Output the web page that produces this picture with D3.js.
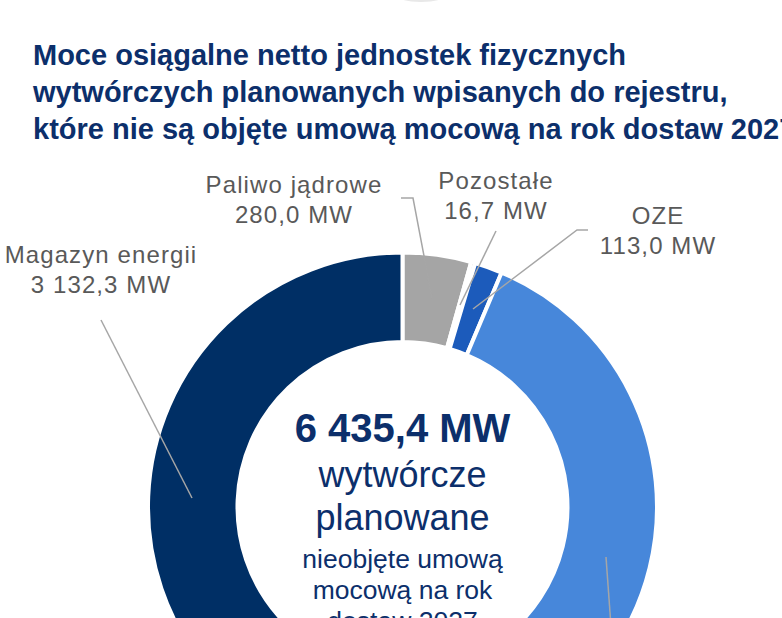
<!DOCTYPE html>
<html>
<head>
<meta charset="utf-8">
<style>
  body { margin: 0; background: #fff; }
  svg { display: block; font-family: "Liberation Sans", Arial, sans-serif; }
</style>
</head>
<body>
<svg id="chart"></svg>
<script src="https://d3js.org/d3.v7.min.js"></script>
<script>
const width = 782;
const height = 618;

// slices in clockwise order starting at 12 o'clock
const categories = ['Paliwo jądrowe', 'Pozostałe', 'OZE', '', 'Magazyn energii'];
const values = [280.0, 16.7, 113.0, 2893.4, 3132.3];
const valueLabels = ['280,0 MW', '16,7 MW', '113,0 MW', '', '3 132,3 MW'];
const colors = ['#a5a5a5', '#7f7f7f', '#1c5bbb', '#4787da', '#002f65'];

const titleLines = [
  'Moce osiągalne netto jednostek fizycznych',
  'wytwórczych planowanych wpisanych do rejestru,',
  'które nie są objęte umową mocową na rok dostaw 2027'
];
const totalLabel = '6 435,4 MW';
const centerBig = ['wytwórcze', 'planowane'];
const centerSmall = ['nieobjęte umową', 'mocową na rok', 'dostaw 2027'];

const cx = 402.5, cy = 507;
const outerR = 254.5, innerR = 165;

const svg = d3.select('#chart').attr('width', width).attr('height', height);

// faint shadow at the very top
svg.append('ellipse')
  .attr('cx', 421).attr('cy', -6)
  .attr('rx', 25).attr('ry', 7)
  .attr('fill', 'none')
  .attr('stroke', '#e8e8e8')
  .attr('stroke-width', 2);

// title
svg.append('text')
  .attr('x', 33).attr('y', 65)
  .attr('fill', '#0c2f6b')
  .attr('font-size', 29).attr('font-weight', 'bold')
  .selectAll('tspan').data(titleLines).join('tspan')
  .attr('x', 33)
  .attr('dy', (d, i) => i === 0 ? 0 : 37)
  .text(d => d);

const pie = d3.pie().sort(null).value(d => d.value);
const arc = d3.arc().innerRadius(innerR).outerRadius(outerR);
const data = categories.map((c, i) => ({ name: c, value: values[i], color: colors[i] }));

const g = svg.append('g').attr('transform', `translate(${cx},${cy})`);
g.selectAll('path.slice').data(pie(data)).join('path')
  .attr('class', 'slice')
  .attr('d', arc)
  .attr('fill', d => d.data.color)
  .attr('stroke', '#fff')
  .attr('stroke-width', 4)
  .attr('stroke-linejoin', 'miter');

// leader lines
const leaders = [
  [[401, 198], [413, 198], [432, 298]],
  [[496, 231], [460, 305]],
  [[588, 230], [577, 230], [473, 309]],
  [[606, 557], [612, 640]],
  [[101, 320], [192, 498]]
];
svg.append('g').selectAll('path').data(leaders).join('path')
  .attr('d', d => d3.line()(d))
  .attr('fill', 'none')
  .attr('stroke', '#a6a6a6')
  .attr('stroke-width', 1.5);

// slice labels
const labelPos = [[294, 193], [496, 189], [658, 224], null, [101, 263]];
const lab = svg.append('g')
  .attr('fill', '#595959')
  .attr('font-size', 24)
  .attr('letter-spacing', 1.1)
  .attr('text-anchor', 'middle');
categories.forEach((c, i) => {
  if (!labelPos[i]) return;
  const t = lab.append('text').attr('x', labelPos[i][0]).attr('y', labelPos[i][1]);
  t.append('tspan').attr('x', labelPos[i][0]).text(c);
  t.append('tspan').attr('x', labelPos[i][0]).attr('dy', 30).text(valueLabels[i]);
});

// centre text
const ct = svg.append('g').attr('fill', '#0c2f6b').attr('text-anchor', 'middle');
ct.append('text')
  .attr('x', cx).attr('y', 442)
  .attr('font-size', 40).attr('font-weight', 'bold')
  .text(totalLabel);
centerBig.forEach((s, i) => {
  ct.append('text').attr('x', cx).attr('y', 487 + i * 43)
    .attr('font-size', 36).text(s);
});
centerSmall.forEach((s, i) => {
  ct.append('text').attr('x', cx).attr('y', 568 + i * 31)
    .attr('font-size', 26.5).text(s);
});
</script>
</body>
</html>
